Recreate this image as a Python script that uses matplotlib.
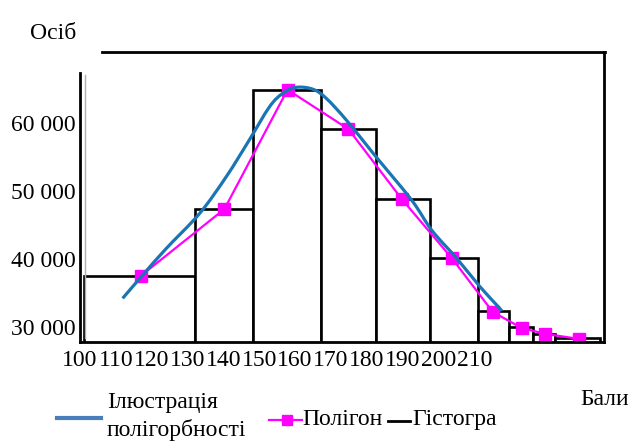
import matplotlib
matplotlib.use("Agg")
import matplotlib.pyplot as plt
from matplotlib.lines import Line2D
from matplotlib.path import Path
from matplotlib.patches import PathPatch

plt.rcParams['font.family'] = ['Liberation Serif', 'DejaVu Serif']

# ---- data ----
tick_values = [100, 110, 120, 130, 140, 150, 160, 170, 180, 190, 200, 210]
tick_labels = [str(v) for v in tick_values]
y_ticks = [30000, 40000, 50000, 60000]
y_tick_labels = ["30 000", "40 000", "50 000", "60 000"]

bar_edges = [101.2, 132.2, 148.2, 167.2, 182.6, 197.6, 211.0, 219.7, 226.4, 232.5, 245.1]
bar_heights = [37500, 47350, 64850, 59100, 48800, 40150, 32350, 30000, 29000, 28400]

poly_x = [116.9, 140.3, 157.9, 174.9, 189.8, 203.7, 215.2, 223.3, 229.7, 239.3]
poly_y = [37500, 47350, 64900, 59100, 48800, 40150, 32200, 29850, 29000, 28250]

curve_x = [111.9, 117.5, 124.1, 133.4, 140.8, 147.0, 152.9, 156.6, 160.4,
           165.0, 168.7, 174.3, 181.8, 192.5, 198.1, 205.1, 211.6, 216.7, 217.7]
curve_y = [34220, 37650, 41570, 46720, 52100, 57300, 62400, 64370, 65250,
           64960, 63630, 60440, 55540, 48680, 44260, 40100, 35930, 32990, 32350]

W, H = 633, 441
fig = plt.figure(figsize=(W / 100, H / 100), dpi=100)


def fx(x):
    return x / W


def fy(y):
    return 1 - y / H


ax = fig.add_axes([fx(80), fy(342), fx(604) - fx(80), fy(52) - fy(342)])
ax.set_xlim(100, 246.2)
ax.set_ylim(27800, 70440)

# histogram
widths = [bar_edges[i + 1] - bar_edges[i] for i in range(len(bar_heights))]
ax.bar(bar_edges[:-1], bar_heights, width=widths, align='edge', bottom=0,
       facecolor='white', edgecolor='black', linewidth=1.9, zorder=2)

# polygon
ax.plot(poly_x, poly_y, color='#ff00ff', linewidth=1.6, marker='s',
        markersize=8, markerfacecolor='#ff00ff', markeredgecolor='#ff00ff', zorder=3)

# smooth curve drawn through the read points as a cubic Bezier path
pts = list(zip(curve_x, curve_y))
verts = [pts[0]]
codes = [Path.MOVETO]
n = len(pts)
for i in range(n - 1):
    p0 = pts[i - 1] if i > 0 else pts[i]
    p1 = pts[i]
    p2 = pts[i + 1]
    p3 = pts[i + 2] if i + 2 < n else pts[i + 1]
    c1 = (p1[0] + (p2[0] - p0[0]) / 6, p1[1] + (p2[1] - p0[1]) / 6)
    c2 = (p2[0] - (p3[0] - p1[0]) / 6, p2[1] - (p3[1] - p1[1]) / 6)
    verts += [c1, c2, p2]
    codes += [Path.CURVE4] * 3
ax.add_patch(PathPatch(Path(verts, codes), facecolor='none', edgecolor='#1a75b5',
                       linewidth=2.3, zorder=4, capstyle='butt'))

ax.set_xticks(tick_values)
ax.set_xticklabels(tick_labels, fontsize=17)
ax.set_yticks(y_ticks)
ax.set_yticklabels(y_tick_labels, fontsize=17)
ax.tick_params(axis='x', length=0, pad=5.5)
ax.tick_params(axis='y', length=0, pad=3)

for s in ['top', 'left']:
    ax.spines[s].set_visible(False)
for s in ['bottom', 'right']:
    ax.spines[s].set_linewidth(2.0)
    ax.spines[s].set_zorder(5)

# custom top / left border pieces
fig.add_artist(Line2D([fx(102), fx(605)], [fy(52), fy(52)], color='black', linewidth=2.0))
fig.add_artist(Line2D([fx(80), fx(80)], [fy(73), fy(342)], color='black', linewidth=2.0))
fig.add_artist(Line2D([fx(85), fx(85)], [fy(75), fy(338)], color='#b0b0b0', linewidth=1.0))

# axis titles
fig.text(fx(53), fy(39), "Осіб", fontsize=17, ha='center', va='baseline')
fig.text(fx(605), fy(405), "Бали", fontsize=17, ha='center', va='baseline')

# legend (manual)
fig.add_artist(Line2D([fx(57), fx(101)], [fy(418), fy(418)], color='#4a7ebb', linewidth=3.0))
fig.text(fx(107), fy(408), "Ілюстрація", fontsize=17, ha='left', va='baseline')
fig.text(fx(107), fy(436), "полігорбності", fontsize=17, ha='left', va='baseline')
fig.add_artist(Line2D([fx(269), fx(302)], [fy(420), fy(420)], color='#ff00ff', linewidth=1.6))
fig.add_artist(Line2D([fx(287)], [fy(420)], color='#ff00ff', marker='s', markersize=7,
                      linestyle='none'))
fig.text(fx(302), fy(425), "Полігон", fontsize=17, ha='left', va='baseline')
fig.add_artist(Line2D([fx(388), fx(410)], [fy(421), fy(421)], color='black', linewidth=2.0))
fig.text(fx(412), fy(425), "Гістогра", fontsize=17, ha='left', va='baseline')

fig.savefig("out.png", dpi=100)
